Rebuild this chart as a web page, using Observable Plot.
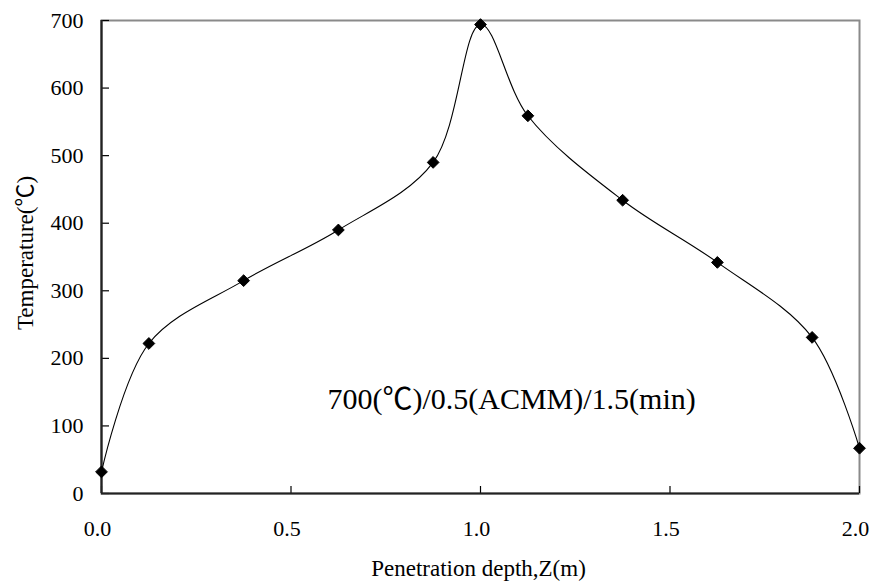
<!DOCTYPE html>
<html>
<head>
<meta charset="utf-8">
<script src="https://cdn.jsdelivr.net/npm/d3@7"></script>
<script src="https://cdn.jsdelivr.net/npm/@observablehq/plot@0.6"></script>
<style>
  html, body { margin: 0; padding: 0; background: #fff; }
  #chart svg { display: block; }
</style>
</head>
<body>
<div id="chart"></div>
<script>
// Data
const depth = [0.0, 0.125, 0.375, 0.625, 0.875, 1.0, 1.125, 1.375, 1.625, 1.875, 2.0];
const temperature = [32, 222, 315, 390, 490, 694, 559, 434, 342, 231, 67];
const xTicks = [0, 0.5, 1.0, 1.5, 2.0];
const yTicks = [0, 100, 200, 300, 400, 500, 600, 700];
const annotationText = ["700(℃)/0.5(ACMM)/1.5(min)"];
const annotationAt = {x: [1.082], y: [140]};

const data = depth.map((d, i) => ({depth: d, temp: temperature[i]}));
const note = annotationText.map((t, i) => ({t, x: annotationAt.x[i], y: annotationAt.y[i]}));

const serif = "Liberation Serif, Times New Roman, Noto Sans CJK SC, serif";

const chart = Plot.plot({
  width: 871,
  height: 587,
  marginLeft: 101,
  marginRight: 12,
  marginTop: 20,
  marginBottom: 94,
  style: {fontFamily: serif, fontSize: "22px", color: "#000", background: "#fff"},
  x: {domain: [0, 2]},
  y: {domain: [0, 700]},
  marks: [
    Plot.frame({stroke: "#8a8a8a", strokeWidth: 2}),
    Plot.axisY(yTicks, {
      tickSize: -8, tickPadding: 26, tickFormat: d => String(d),
      fontSize: 22, fontFamily: serif, label: null, strokeWidth: 1.2
    }),
    // x tick marks (inward)
    Plot.axisX(xTicks, {tickSize: -7, tickFormat: () => "", label: null, strokeWidth: 1.2}),
    // x tick labels
    Plot.axisX(xTicks, {
      tickSize: 0, tickPadding: 27, dx: -4, tickFormat: d => d.toFixed(1),
      fontSize: 22, fontFamily: serif, label: null
    }),
    Plot.ruleX([0], {stroke: "#222", strokeWidth: 2.2}),
    Plot.ruleY([0], {stroke: "#222", strokeWidth: 2.2}),
    Plot.line(data, {x: "depth", y: "temp", curve: "catmull-rom", stroke: "#000", strokeWidth: 1.1}),
    Plot.dot(data, {x: "depth", y: "temp", symbol: "diamond2", r: 5.3, fill: "#000", stroke: "#000", strokeWidth: 1}),
    Plot.text(note, {x: "x", y: "y", text: "t", fontSize: 30, fill: "#000", fontFamily: serif}),
    Plot.text(["Penetration depth,Z(m)"], {frameAnchor: "bottom", dx: -2, dy: 82, fontSize: 23, fill: "#000", fontFamily: serif}),
    Plot.text(["Temperature(℃)"], {frameAnchor: "left", textAnchor: "middle", dx: -76, dy: -4, rotate: -90, fontSize: 23, fill: "#000", fontFamily: serif})
  ]
});
document.getElementById("chart").appendChild(chart);
</script>
</body>
</html>
